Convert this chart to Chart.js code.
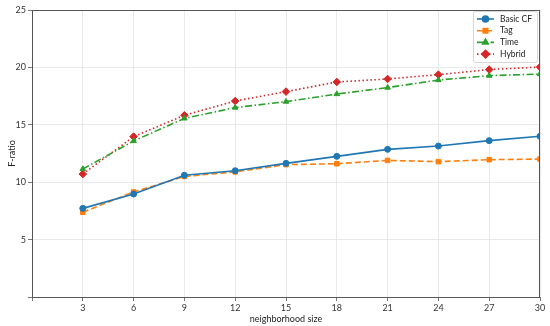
<!DOCTYPE html>
<html>
<head>
<meta charset="utf-8">
<script src="https://cdn.jsdelivr.net/npm/chart.js@4"></script>
<style>
  html, body { margin: 0; padding: 0; background: #fff; }
  #wrap { width: 550px; height: 326px; }
</style>
</head>
<body>
<div id="wrap"><canvas id="chart" width="550" height="326"></canvas></div>
<script>
const sizes = [3, 6, 9, 12, 15, 18, 21, 24, 27, 30];
const basicCF = [7.72, 8.97, 10.6, 11.0, 11.64, 12.25, 12.86, 13.15, 13.62, 14.0];
const tag = [7.38, 9.15, 10.5, 10.9, 11.53, 11.61, 11.9, 11.79, 11.96, 12.02];
const time = [11.15, 13.59, 15.56, 16.5, 17.02, 17.68, 18.24, 18.9, 19.28, 19.42];
const hybrid = [10.71, 13.97, 15.83, 17.07, 17.89, 18.73, 18.99, 19.37, 19.81, 20.03];

const FONT = 'Lato, "DejaVu Sans", sans-serif';

const toPoints = vals => vals.map((v, i) => ({ x: sizes[i], y: v }));

const series = [
    { label: 'Basic CF', data: basicCF, color: '#1f77b4', dash: [], point: 'circle', r: 3 },
    { label: 'Tag', data: tag, color: '#ff7f0e', dash: [6, 3], point: 'rect', r: 3.2 },
    { label: 'Time', data: time, color: '#2ca02c', dash: [7, 2.5, 1.5, 2.5], point: 'triangle', r: 3.2 },
    { label: 'Hybrid', data: hybrid, color: '#d62728', dash: [1.5, 2.5], point: 'rectRot', r: 3.8 }
];

// matplotlib-like frame and legend inside the plot area
const framePlugin = {
    id: 'frame',
    afterDraw(chart) {
        const { ctx, chartArea: a } = chart;
        ctx.save();
        ctx.strokeStyle = '#555';
        ctx.lineWidth = 1;
        ctx.strokeRect(a.left + 0.5, a.top + 0.5, a.right - a.left - 1, a.bottom - a.top);

        // legend box
        const w = 64, h = 51;
        const x0 = a.right - w - 3, y0 = a.top + 1;
        ctx.fillStyle = 'rgba(255,255,255,0.85)';
        ctx.strokeStyle = '#ccc';
        ctx.lineWidth = 0.8;
        ctx.beginPath();
        ctx.roundRect(x0 + 0.5, y0 + 0.5, w, h, 2);
        ctx.fill();
        ctx.stroke();
        ctx.font = '8.5px ' + FONT;
        ctx.textBaseline = 'middle';
        chart.data.datasets.forEach((ds, i) => {
            const y = y0 + 8 + i * 11.7;
            ctx.strokeStyle = ds.borderColor;
            ctx.lineWidth = 1.6;
            ctx.setLineDash(ds.borderDash);
            ctx.beginPath();
            ctx.moveTo(x0 + 4, y);
            ctx.lineTo(x0 + 21, y);
            ctx.stroke();
            ctx.setLineDash([]);
            Chart.helpers.drawPoint(ctx, {
                pointStyle: ds.pointStyle, radius: ds.pointRadius, rotation: 0, borderWidth: 1
            }, x0 + 12.5, y);
            ctx.fillStyle = ds.borderColor;
            ctx.fill();
            ctx.fillStyle = '#222';
            ctx.fillText(ds.label, x0 + 27, y);
        });
        ctx.restore();
    }
};

const ctx = document.getElementById('chart').getContext('2d');

new Chart(ctx, {
    type: 'line',
    data: {
        datasets: series.map(s => ({
            label: s.label,
            data: toPoints(s.data),
            borderColor: s.color,
            backgroundColor: s.color,
            pointBackgroundColor: s.color,
            pointBorderColor: s.color,
            borderWidth: 1.6,
            borderDash: s.dash,
            pointStyle: s.point,
            pointRadius: s.r,
            pointBorderWidth: 1,
            tension: 0,
            fill: false
        }))
    },
    options: {
        responsive: false,
        animation: false,
        layout: { padding: { top: 10, right: 10, left: 7, bottom: 0 } },
        plugins: {
            legend: { display: false },
            tooltip: { enabled: false }
        },
        scales: {
            x: {
                type: 'linear',
                min: 0,
                max: 30,
                ticks: {
                    stepSize: 3,
                    color: '#333',
                    font: { family: FONT, size: 9 },
                    padding: 2,
                    maxRotation: 0,
                    callback: v => v === 0 ? '' : v
                },
                grid: { color: '#e3e3e3', lineWidth: 0.8, tickColor: '#555', tickLength: 4 },
                border: { display: false },
                title: { display: true, text: 'neighborhood size', color: '#222', font: { family: FONT, size: 9 }, padding: { top: 1, bottom: 2 } },
                afterFit: s => { s.height = 29; }
            },
            y: {
                min: 0,
                max: 25,
                ticks: {
                    stepSize: 5,
                    color: '#333',
                    font: { family: FONT, size: 9 },
                    padding: 2,
                    callback: v => v === 0 ? '' : v
                },
                grid: { color: '#e3e3e3', lineWidth: 0.8, tickColor: '#555', tickLength: 4 },
                border: { display: false },
                title: { display: true, text: 'F-ratio', color: '#222', font: { family: FONT, size: 9 }, padding: { top: 0, bottom: 2 } },
                afterFit: s => { s.width = 25; }
            }
        }
    },
    plugins: [framePlugin]
});
</script>
</body>
</html>
